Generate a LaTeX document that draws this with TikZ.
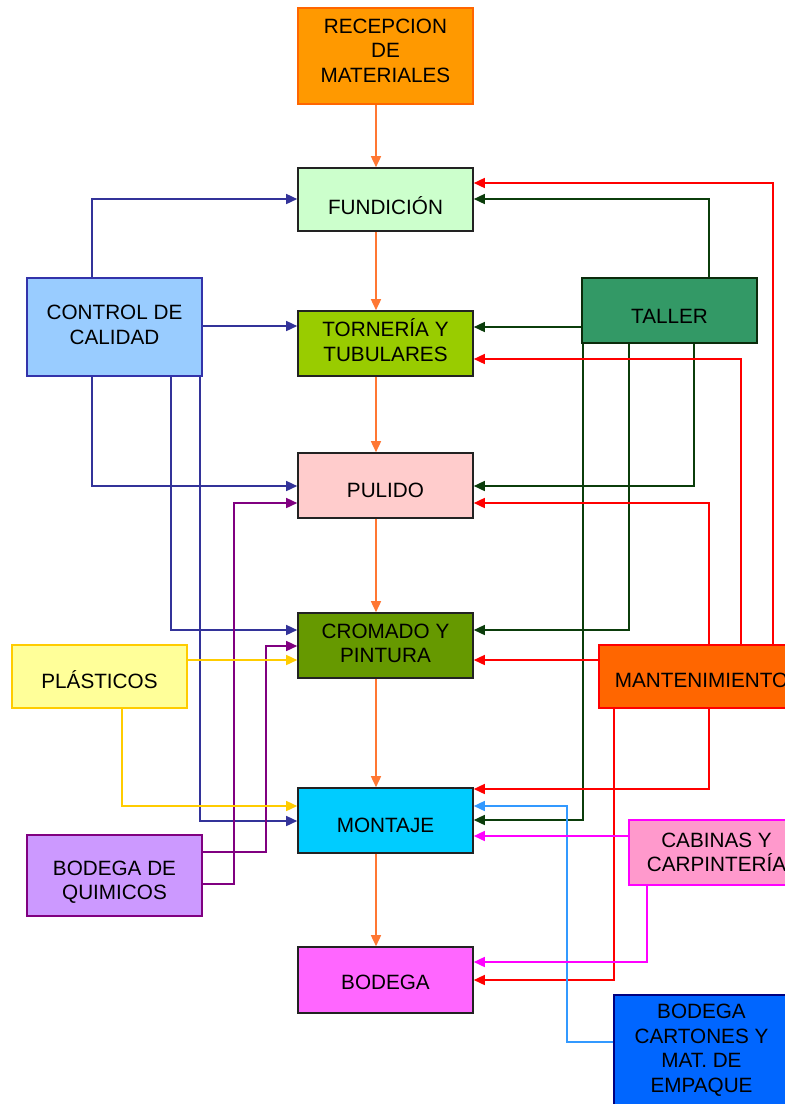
\documentclass[tikz,border=0pt]{standalone}
\usepackage{fontspec}
\setmainfont{Liberation Sans}
\usetikzlibrary{arrows.meta}
\definecolor{cOrgLine}{HTML}{FF7733}
\definecolor{cBlu}{HTML}{333399}
\definecolor{cPur}{HTML}{800080}
\definecolor{cYel}{HTML}{FFCC00}
\definecolor{cGrn}{HTML}{0B3D0B}
\definecolor{cRed}{HTML}{FF0000}
\definecolor{cLbl}{HTML}{3399FF}
\definecolor{cMag}{HTML}{FF00FF}
\definecolor{fRec}{HTML}{FF9900}
\definecolor{bRec}{HTML}{FF6600}
\definecolor{fFund}{HTML}{CCFFCC}
\definecolor{fTorn}{HTML}{99CC00}
\definecolor{fPul}{HTML}{FFCCCC}
\definecolor{fCrom}{HTML}{669900}
\definecolor{fMont}{HTML}{00CCFF}
\definecolor{fBod}{HTML}{FF66FF}
\definecolor{fCtrl}{HTML}{99CCFF}
\definecolor{bCtrl}{HTML}{3333AA}
\definecolor{fTal}{HTML}{339966}
\definecolor{bTal}{HTML}{0B2B0B}
\definecolor{fPlas}{HTML}{FFFF99}
\definecolor{fQuim}{HTML}{CC99FF}
\definecolor{fMant}{HTML}{FF6600}
\definecolor{fCab}{HTML}{FF99CC}
\definecolor{fCart}{HTML}{0066FF}
\definecolor{bCart}{HTML}{000080}
\definecolor{bMain}{HTML}{222222}
\begin{document}
\begin{tikzpicture}[x=1pt,y=-1pt,
  box/.style={draw=bMain, line width=1.6pt, inner sep=0pt, minimum width=175pt},
  txt/.style={inner sep=0pt, align=center, font=\fontsize{20.7}{24.5}\selectfont},
  conn/.style={line width=1.5pt, -{Triangle[length=11pt,width=10pt]}},
  org/.style={conn, draw=cOrgLine},
  blu/.style={conn, draw=cBlu},
  pur/.style={conn, draw=cPur},
  yel/.style={conn, draw=cYel},
  grn/.style={conn, draw=cGrn},
  rdd/.style={conn, draw=cRed},
  lbl/.style={conn, draw=cLbl},
  mag/.style={conn, draw=cMag}]
\useasboundingbox (0,0) rectangle (785,1104);
\clip (0,0) rectangle (785,1104);
\fill[white] (0,0) rectangle (785,1104);

% main column
\node[box, fill=fRec, draw=bRec, minimum height=96pt,
  label={[txt, yshift=5.5pt]center:RECEPCION\\DE\\MATERIALES}] (rec) at (385.5,56) {};
\node[box, fill=fFund, minimum height=63pt,
  label={[txt, yshift=-6pt]center:FUNDICIÓN}] (fund) at (385.5,199.5) {};
\node[box, fill=fTorn, minimum height=65pt,
  label={[txt, yshift=3.5pt]center:TORNERÍA Y\\TUBULARES}] (torn) at (385.5,343.5) {};
\node[box, fill=fPul, minimum height=65pt,
  label={[txt, yshift=-4.5pt]center:PULIDO}] (pul) at (385.5,485.5) {};
\node[box, fill=fCrom, minimum height=65pt,
  label={[txt, yshift=2pt]center:CROMADO Y\\PINTURA}] (crom) at (385.5,645.5) {};
\node[box, fill=fMont, minimum height=65pt,
  label={[txt, yshift=-4.5pt]center:MONTAJE}] (mont) at (385.5,820.5) {};
\node[box, fill=fBod, minimum height=66pt,
  label={[txt, yshift=-2.5pt]center:BODEGA}] (bod) at (385.5,980) {};

% side boxes
\node[box, fill=fCtrl, draw=bCtrl, minimum height=98pt,
  label={[txt, yshift=2pt]center:CONTROL DE\\CALIDAD}] (ctrl) at (114.5,327) {};
\node[box, fill=fTal, draw=bTal, minimum height=65pt,
  label={[txt, yshift=-5.5pt]center:TALLER}] (tal) at (669.5,310.5) {};
\node[box, fill=fPlas, draw=cYel, minimum height=63pt,
  label={[txt, yshift=-3.5pt]center:PLÁSTICOS}] (plas) at (99.5,676.5) {};
\node[box, fill=fQuim, draw=cPur, minimum height=81pt,
  label={[txt, yshift=-6.5pt]center:BODEGA DE\\QUIMICOS}] (quim) at (114.5,875.5) {};
\node[box, fill=fMant, draw=cRed, minimum width=205pt, minimum height=63pt,
  label={[txt, yshift=-4pt]center:MANTENIMIENTO}] (mant) at (701.5,676.5) {};
\node[box, fill=fCab, draw=cMag, minimum height=65pt,
  label={[txt]center:CABINAS Y\\CARPINTERÍA}] (cab) at (716.5,852.5) {};
\node[box, fill=fCart, draw=bCart, minimum height=115pt,
  label={[txt, yshift=2.5pt]center:BODEGA\\CARTONES Y\\MAT. DE\\EMPAQUE}] (cart) at (701.5,1052.5) {};

% main flow
\draw[org] (rec.south -| 376,0) -- (fund.north -| 376,0);
\draw[org] (fund.south -| 376,0) -- (torn.north -| 376,0);
\draw[org] (torn.south -| 376,0) -- (pul.north -| 376,0);
\draw[org] (pul.south -| 376,0) -- (crom.north -| 376,0);
\draw[org] (crom.south -| 376,0) -- (mont.north -| 376,0);
\draw[org] (mont.south -| 376,0) -- (bod.north -| 376,0);

% control de calidad
\draw[blu] (ctrl.north -| 92,0) |- (fund.west |- 0,199);
\draw[blu] (ctrl.east |- 0,326) -- (torn.west |- 0,326);
\draw[blu] (ctrl.south -| 92,0) |- (pul.west |- 0,486);
\draw[blu] (ctrl.south -| 171,0) |- (crom.west |- 0,630);
\draw[blu] (ctrl.south -| 200,0) |- (mont.west |- 0,821);

% bodega de quimicos
\draw[pur] (quim.east |- 0,852) -| (266,646) -- (crom.west |- 0,646);
\draw[pur] (quim.east |- 0,884) -| (234,503) -- (pul.west |- 0,503);

% plasticos
\draw[yel] (plas.east |- 0,660) -- (crom.west |- 0,660);
\draw[yel] (plas.south -| 122,0) |- (mont.west |- 0,806);

% taller
\draw[grn] (tal.north -| 709,0) |- (fund.east |- 0,199);
\draw[grn] (tal.west |- 0,327) -- (torn.east |- 0,327);
\draw[grn] (tal.south -| 694,0) |- (pul.east |- 0,486);
\draw[grn] (tal.south -| 629,0) |- (crom.east |- 0,630);
\draw[grn] (tal.south -| 583,0) |- (mont.east |- 0,820);

% mantenimiento
\draw[rdd] (mant.north -| 773,0) |- (fund.east |- 0,183);
\draw[rdd] (mant.north -| 741,0) |- (torn.east |- 0,359);
\draw[rdd] (mant.north -| 709,0) |- (pul.east |- 0,503);
\draw[rdd] (mant.west |- 0,660) -- (crom.east |- 0,660);
\draw[rdd] (mant.south -| 709,0) |- (mont.east |- 0,789);
\draw[rdd] (mant.south -| 614,0) |- (bod.east |- 0,980);

% bodega cartones
\draw[lbl] (cart.west |- 0,1042) -| (567,806) -- (mont.east |- 0,806);

% cabinas
\draw[mag] (cab.west |- 0,836) -- (mont.east |- 0,836);
\draw[mag] (cab.south -| 647,0) |- (bod.east |- 0,962);
\end{tikzpicture}
\end{document}
